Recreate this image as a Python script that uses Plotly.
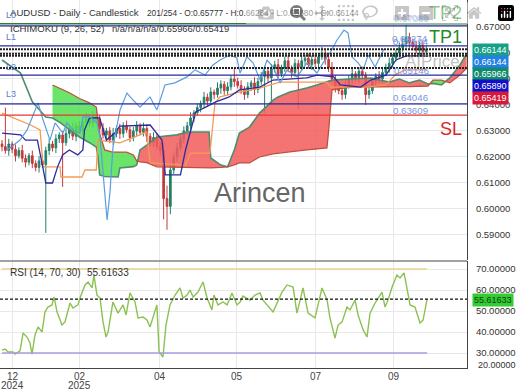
import plotly.graph_objects as go

# ---------------- DATA ----------------
# candles: one candle per 2 bars, bar index on x axis; prices in pips (x1e-4)
bars = list(range(0, 254, 2))
first_open = 6250
closes_pips = [6240,6225,6250,6230,6205,6225,6195,6180,6205,6175,
               6160,6185,6170,6225,6250,6235,6270,6285,6255,6290,
               6310,6280,6320,6300,6335,6350,6330,6360,6345,6310,
               6285,6300,6265,6290,6310,6290,6320,6305,6275,6300,
               6320,6295,6310,6280,6255,6275,6240,6225,6040,6010,
               6150,6200,6235,6270,6300,6320,6350,6370,6390,6405,
               6430,6415,6450,6440,6465,6480,6455,6470,6500,6490,
               6475,6460,6440,6470,6485,6460,6490,6510,6530,6505,
               6540,6555,6520,6545,6570,6540,6525,6560,6545,6570,
               6580,6555,6575,6560,6585,6600,6575,6545,6500,6470,
               6455,6440,6475,6500,6520,6505,6530,6515,6440,6455,
               6490,6510,6500,6525,6545,6560,6580,6600,6620,6635,
               6660,6640,6625,6610,6630,6605,6614]
hi_wick = [15,150,20,10,18,12,22,15,10,20,
           12,18,25,15,20,12,18,10,15,20,
           14,22,12,18,15,20,10,16,12,18,
           20,12,15,22,10,18,14,20,12,16,
           18,10,22,15,12,20,14,18,30,50,
           25,15,20,12,18,15,22,10,16,12,
           20,14,18,10,22,15,12,18,14,40,
           15,20,12,18,10,22,14,16,20,12,
           18,15,22,10,16,20,12,18,14,20,
           12,18,15,20,14,23,16,12,20,15,
           18,12,20,15,22,10,16,18,12,20,
           15,12,20,18,14,22,16,12,20,25,
           48,18,15,22,12,16,14]
lo_wick = [18,12,20,15,22,10,16,20,12,18,
           15,20,12,262,18,14,20,16,170,12,
           18,15,20,12,16,22,14,18,12,20,
           15,22,12,18,14,20,16,12,18,15,
           20,12,16,22,14,18,12,20,80,90,
           30,15,20,12,18,14,20,16,12,18,
           15,20,14,18,12,22,16,18,14,20,
           12,18,20,14,16,22,15,12,140,18,
           100,15,20,12,18,14,20,16,160,12,
           18,15,20,14,16,12,20,18,15,22,
           14,20,16,12,18,15,20,14,40,16,
           12,20,15,18,14,20,16,12,18,15,
           14,20,16,12,18,15,12]

# Ichimoku lines (bar index, price)
tenkan_x = [0,11,14,21,24,26,30,33,36,40,45,48,49,52,58,60,62,67,70,88,92,95,97,106,109,112,115,121,127,135,141,153,161,181,187,197,201,213,219,228,234,240,253]
tenkan_y = [.6292,.6285,.6265,.6265,.6169,.6100,.6100,.6162,.6208,.6227,.6208,.6227,.6304,.6350,.6350,.6304,.6265,.6292,.6319,.6323,.6292,.6265,.6131,.6131,.6227,.6304,.6373,.6392,.6412,.6431,.6458,.6469,.6496,.6504,.6515,.6508,.6477,.6469,.6496,.6515,.6573,.6589,.6589]
kijun_x = [0,17,22.6,24.4,34.5,35,47.5,49.3,56,57,70,86,88,109,112,123.5,126.5,129.5,141.4,153,165,193,195,216,228,233.4,239.4,252.5]
kijun_y = [.6369,.6323,.6304,.6162,.6162,.6123,.6123,.6150,.6150,.6265,.6254,.6296,.6177,.6169,.6215,.6215,.6408,.6431,.6450,.6465,.6488,.6488,.6469,.6469,.6477,.6515,.6535,.6535]
chikou_x = [3,10.7,14.9,21.4,24.4,28.5,31.5,36.2,38.6,42.2,46.3,48.1,52.3,56.4,58.2,60,62.4,64.1,65.9,70.1,74.2,77.8,82,87.9,92,96.8,102.7,109.9,114.6,120.6,125.3,129.5,135.4,139.5,141.4,145.5,149.1,153.3,157.4,161,165.2,169.3,175.2,181.2,187.1,190.7,194.8,199,203.1,205.5,207.9,211.5,214.5,217.5,221.6,226.9]
chikou_y = [.6227,.6265,.6304,.6408,.6342,.6265,.6331,.6292,.6331,.6304,.6292,.6354,.6354,.6331,.6277,.6150,.5958,.6062,.6238,.6381,.6446,.6419,.6392,.6431,.6381,.6477,.6485,.6508,.6535,.6515,.6554,.6573,.6592,.6581,.6523,.6585,.6562,.6496,.6573,.6546,.6485,.6535,.6508,.6562,.6523,.6562,.6600,.6650,.6688,.6677,.6585,.6562,.6535,.6592,.6546,.6615]
cloud_x = [0,6,11,18,26,30,35,40,46,52,56,57,58,61,65,69,70,74,78,80,82,86,92,104,110,123,124,130,134,138,141,147,150,153,161,164,171,181,187,193,194,196,207,219,230,236,242,248,253,256,261,266,272,276]
span_a = [.6573,.6545,.6523,.6412,.6354,.6350,.6330,.6305,.6277,.6255,.6238,.6200,.6131,.6125,.6123,.6123,.6158,.6160,.6163,.6169,.6227,.6246,.6277,.6285,.6296,.6296,.6196,.6169,.6162,.6227,.6292,.6315,.6342,.6369,.6419,.6431,.6450,.6465,.6477,.6490,.6492,.6496,.6500,.6504,.6488,.6500,.6485,.6496,.6481,.6483,.6477,.6504,.6554,.6597]
span_b = [None,None,None,None,None,.6477,.6463,.6447,.6425,.6408,.6392,.6340,.6290,.6227,.6220,.6219,.6219,.6219,.6208,.6185,.6181,.6178,.6162,.6160,.6158,.6158,.6158,.6160,.6162,.6170,.6177,.6177,.6190,.6200,.6212,.6215,.6220,.6227,.6230,.6235,.6300,.6458,.6469,.6469,.6469,.6470,.6471,.6472,.6473,.6496,.6496,.6485,.6515,.6542]

# RSI (bar index, value)
rsi_x = [0,1.8,3.6,6.5,7.7,9.5,10.7,12.5,14.8,16.6,17.8,19.6,21.4,23.8,25.5,27.3,29.7,30.9,32.7,35.6,37.4,40.4,42.2,45.1,46.3,49.3,51.1,53.5,54.6,56.4,58.2,60,61.8,63,65.9,68.9,71.9,73.7,76,79,80.8,83.8,86.1,87.9,89.7,92,93.3,95.6,97.4,99.8,102.8,105.7,107.5,109.9,111.7,113.5,116.4,119.4,121.8,124.7,125.9,128.3,131.3,133.7,136.6,139.6,141.4,143.1,147.3,150.3,153.3,155,161,166.3,169.3,172.9,175.2,178.8,181.8,185.9,190.1,193.1,194.8,197.8,199.6,202,204.9,206.7,209.7,211.5,214.5,216.8,218.6,221.6,225.7,227.5,229.3,231.7,234.6,236.4,238.8,242.4,245.3,248.3,250.1,252.5]
rsi_y = [31.4,31.9,30.5,30.5,29.5,30.5,31,39.5,37.6,34.8,29.5,38.6,42.4,40,49.5,51.9,52.9,56.7,49.5,43.3,44.8,53.8,51.4,52.9,56.2,62.4,63.8,61,67.1,57.6,56.2,44.8,37.6,40,54.3,49,52.9,48.1,58.6,54.3,46.7,47.1,45.7,42.4,47.1,52.9,30.5,28.1,43.3,52.9,57.6,61,56.2,57.6,60,56.7,59,63.8,56.2,50.5,57.6,52.9,54.3,52.9,58.6,52.9,54.3,57.1,55.2,57.6,58.6,55.2,49.5,59,62.4,61.4,49,61,49,46.7,61,55.2,46.7,37.1,43.3,44.8,51.9,50.5,55.2,48.1,41,37.6,49,53.8,59,51.9,55.2,61.4,67.1,65.7,68.1,52.9,51.9,44.3,45.7,55.6]
rsi_last = 55.61633

# levels
levels = {"L0": 0.67040, "L1": 0.66274, "L2": 0.65146, "L3": 0.64046}
tp2, tp1, sl = 0.67120, 0.66274, 0.63609
tag_values = [0.66144, 0.66144, 0.65966, 0.65890, 0.65419]
dotted_levels = [0.66144, 0.65966, 0.65890, 0.65419]
tick_pos = [6.5, 46.3, 93.8, 139.5, 186.5, 232.8]
tick_mon = ["12", "02", "04", "05", "07", "09"]
tick_year = ["2024", "2025", "", "", "", ""]

# ---------------- FIGURE ----------------
W, H = 520, 390
MR, MB = 53, 22
PW, PH = W - MR, H - MB


def px(x):
    return x / PW


def py(y):
    return 1 - y / PH


FONT = "Liberation Sans, Arial, sans-serif"
opens_pips = [first_open] + closes_pips[:-1]
O = [o / 1e4 for o in opens_pips]
C = [c / 1e4 for c in closes_pips]
Hh = [(max(o, c) + w) / 1e4 for o, c, w in zip(opens_pips, closes_pips, hi_wick)]
Ll = [(min(o, c) - w) / 1e4 for o, c, w in zip(opens_pips, closes_pips, lo_wick)]

fig = go.Figure()

# cloud segments
pts = [(x, a, b) for x, a, b in zip(cloud_x, span_a, span_b) if b is not None]
segs = []
cur = [[pts[0][0]], [pts[0][1]], [pts[0][2]]]
cur_sign = 1 if pts[0][1] > pts[0][2] else -1
for k in range(1, len(pts)):
    x0, a0, b0 = pts[k - 1]
    x1, a1, b1 = pts[k]
    d0, d1 = a0 - b0, a1 - b1
    s1 = 1 if d1 > 0 else (-1 if d1 < 0 else cur_sign)
    if s1 != cur_sign:
        t = d0 / (d0 - d1)
        xc = x0 + t * (x1 - x0)
        yc = a0 + t * (a1 - a0)
        cur[0].append(xc); cur[1].append(yc); cur[2].append(yc)
        segs.append((cur, cur_sign))
        cur = [[xc], [yc], [yc]]
        cur_sign = s1
    cur[0].append(x1); cur[1].append(a1); cur[2].append(b1)
segs.append((cur, cur_sign))
for (sx, sa, sb), sg in segs:
    fig.add_trace(go.Scatter(
        x=sx + sx[::-1], y=sa + sb[::-1], fill="toself", mode="none",
        fillcolor="rgba(242,92,92,0.85)" if sg > 0 else "rgba(80,225,80,0.85)",
        hoverinfo="skip", showlegend=False, xaxis="x", yaxis="y"))

fig.add_trace(go.Scatter(x=cloud_x, y=span_a, mode="lines", line=dict(color="#4f8c6c", width=1.6),
                         showlegend=False, hoverinfo="skip"))
fig.add_trace(go.Scatter(x=cloud_x, y=span_b, mode="lines", line=dict(color="#c0503e", width=1.3),
                         showlegend=False, hoverinfo="skip"))
fig.add_trace(go.Scatter(x=kijun_x, y=kijun_y, mode="lines", line=dict(color="#f39a55", width=1.3),
                         showlegend=False, hoverinfo="skip"))
fig.add_trace(go.Scatter(x=tenkan_x, y=tenkan_y, mode="lines", line=dict(color="#2c2ca0", width=1.3),
                         showlegend=False, hoverinfo="skip"))

fig.add_trace(go.Candlestick(
    x=bars, open=O, high=Hh, low=Ll, close=C,
    increasing=dict(line=dict(color="#23806a", width=1), fillcolor="#23806a"),
    decreasing=dict(line=dict(color="#c43b3b", width=1), fillcolor="#c43b3b"),
    showlegend=False, hoverinfo="skip", xaxis="x", yaxis="y"))

fig.add_trace(go.Scatter(x=chikou_x, y=chikou_y, mode="lines", line=dict(color="#5b9ee0", width=1.2),
                         showlegend=False, hoverinfo="skip"))

# RSI
fig.add_trace(go.Scatter(x=rsi_x, y=rsi_y, mode="lines", line=dict(color="#8cc152", width=1.4),
                         showlegend=False, hoverinfo="skip", xaxis="x2", yaxis="y2"))

shapes = []
# level lines
shapes.append(dict(type="line", xref="paper", x0=0, x1=1, yref="y", y0=tp2, y1=tp2,
                   line=dict(color="#2e7d32", width=1.5), layer="above"))
for name, v in levels.items():
    shapes.append(dict(type="line", xref="paper", x0=0, x1=1, yref="y", y0=v, y1=v,
                       line=dict(color="#2a2a9e", width=1.3), layer="above"))
shapes.append(dict(type="line", xref="paper", x0=0, x1=1, yref="y", y0=sl, y1=sl,
                   line=dict(color="#e53935", width=1.3), layer="above"))
for v in dotted_levels:
    shapes.append(dict(type="line", xref="paper", x0=0, x1=1, yref="y", y0=v, y1=v,
                       line=dict(color="#222222", width=2, dash="2px,1px"), layer="above"))
# RSI bands
shapes.append(dict(type="line", xref="x2", x0=0, x1=252.5, yref="y2", y0=70, y1=70,
                   line=dict(color="#ead38c", width=1.3)))
shapes.append(dict(type="line", xref="x2", x0=0, x1=252.5, yref="y2", y0=30, y1=30,
                   line=dict(color="#a99be0", width=1.3)))
shapes.append(dict(type="line", xref="paper", x0=0, x1=1, yref="y2", y0=rsi_last, y1=rsi_last,
                   line=dict(color="#111", width=1.2, dash="3px,2px")))
# RSI panel top border
shapes.append(dict(type="line", xref="paper", x0=0, x1=1, yref="paper", y0=py(261), y1=py(261),
                   line=dict(color="#444", width=1)))

ann = []


def txt(x, y, s, size=9, color="#333", xanchor="left", **kw):
    ann.append(dict(x=px(x), y=py(y), xref="paper", yref="paper", text=s, showarrow=False,
                    xanchor=xanchor, yanchor="middle", font=dict(family=FONT, size=size, color=color), **kw))


txt(8, 13, "AUDUSD - Daily - Candlestick", 9.6)
txt(145, 13, "201/254 - O:0.65777 - H:0.66284 - L:0.65680 - C:0.66144", 8.3)
txt(8, 29, "ICHIMOKU (9, 26, 52)", 9.6)
txt(110, 29, "n/a/n/a/n/a/0.65966/0.65419", 9.4)
for lab, yy in [("L0", 15), ("L1", 37), ("L2", 67), ("L3", 94)]:
    txt(4, yy, lab, 9, "#5b7bd0")
lvl_col = "#7896dc"
txt(410, 17, "0.67089", 9.7, lvl_col, "center")
txt(411, 19, "0.67089", 9.7, lvl_col, "center")
txt(410, 39, "0.66274", 9.7, lvl_col, "center")
txt(411, 41, "0.66144", 9.7, lvl_col, "center")
txt(411, 70, "0.65146", 9.7, lvl_col, "center")
txt(410, 98, "0.64046", 9.7, lvl_col, "center")
txt(410, 110, "0.63609", 9.7, lvl_col, "center")
txt(445, 13, "TP2", 18, "#1f8a2a", "center")
txt(445, 37, "TP1", 18, "#1f8a2a", "center")
txt(451, 129, "SL", 18, "#d62828", "center")
txt(432, 61, "AIPrice", 17, "rgba(140,140,140,0.55)", "center")
txt(260, 193, "Arincen", 27, "#666666", "center")
txt(8, 272, "RSI (14, 70, 30)", 10)
txt(85, 272, "55.61633", 10)
txt(476, 365, "20.00000", 9, "#333")

tag_cols = ["#17a086", "#2381e3", "#128a6e", "#1010c8", "#d8173c"]
tag_y = [50, 62, 74, 86, 98]
for v, col, yy in zip(tag_values, tag_cols, tag_y):
    txt(472, yy, f"{v:.5f}", 9, "white", bgcolor=col, borderpad=1)
txt(472, 300, f"{rsi_last:.5f}", 9, "#0d3d0d", bgcolor="#33cc33", borderpad=1)

for tp, m, yr in zip(tick_pos, tick_mon, tick_year):
    ann.append(dict(x=tp, y=py(376), xref="x2", yref="paper", text=m, showarrow=False,
                    xanchor="center", yanchor="middle", font=dict(family=FONT, size=10, color="#444")))
    if yr:
        ann.append(dict(x=tp, y=py(385), xref="x2", yref="paper", text=yr, showarrow=False,
                        xanchor="center", yanchor="middle", font=dict(family=FONT, size=10, color="#444")))

GRID = "#e8e8e8"
xr = [-1.2, 276.2]
fig.update_layout(
    width=W, height=H, margin=dict(l=0, r=MR, t=0, b=MB),
    paper_bgcolor="white", plot_bgcolor="white", showlegend=False,
    font=dict(family=FONT, size=9, color="#333"),
    shapes=shapes, annotations=ann,
    xaxis=dict(domain=[0, 1], range=xr, anchor="y", tickvals=tick_pos, showticklabels=False,
               showgrid=True, gridcolor=GRID, zeroline=False, rangeslider=dict(visible=False),
               showline=False, ticks=""),
    yaxis=dict(domain=[py(260), 1], range=[0.58038, 0.68038], side="right", anchor="x",
               tickvals=[0.59, 0.60, 0.61, 0.62, 0.63, 0.64, 0.65, 0.66, 0.67], tickformat=".5f",
               showgrid=True, gridcolor=GRID, zeroline=False, showline=True, linecolor="#444",
               ticks="", ticklabelstandoff=6, tickfont=dict(size=9.5, color="#333")),
    xaxis2=dict(domain=[0, 1], range=xr, anchor="y2", matches="x", tickvals=tick_pos,
                showticklabels=False, showgrid=True, gridcolor=GRID, zeroline=False,
                showline=True, linecolor="#444", ticks=""),
    yaxis2=dict(domain=[0, py(261)], range=[22.86, 73.81], side="right", anchor="x2",
                tickvals=[30, 40, 50, 60, 70], tickformat=".5f", showgrid=True, gridcolor=GRID,
                zeroline=False, showline=True, linecolor="#444", ticks="", ticklabelstandoff=6,
                tickfont=dict(size=9.5, color="#333")),
)
fig.write_html("out.html", post_script="document.body.style.margin='0';document.body.style.padding='0';")
